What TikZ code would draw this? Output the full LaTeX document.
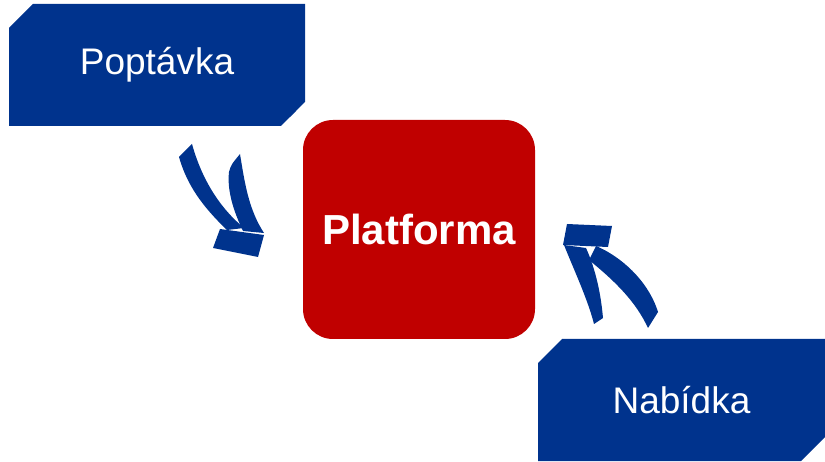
\documentclass[tikz,border=0pt]{standalone}
\usepackage{fontspec}
\setmainfont{Liberation Sans}
\usepackage{tikz}
\usetikzlibrary{shapes.misc}
\definecolor{offerblue}{RGB}{0,51,141}
\definecolor{hubred}{RGB}{192,0,0}
\tikzset{side node/.style={chamfered rectangle,chamfered rectangle corners={north west,south east},
    chamfered rectangle xsep=12pt,chamfered rectangle ysep=12pt,fill=offerblue,text=white,
    inner sep=0pt,font=\fontsize{37}{40}\selectfont},}
\tikzstyle{hub} = [rectangle,rounded corners=30pt,fill=hubred,text=white,inner sep=0pt,
    minimum width=232pt,minimum height=219pt,font=\bfseries\fontsize{42}{46}\selectfont]
\tikzstyle{swoosh} = [fill=offerblue,draw=none]

\begin{document}
\begin{tikzpicture}[x=1pt,y=-1pt]
                    \useasboundingbox (0,0) rectangle (825,462);
                    \node[side node,minimum width=296pt,minimum height=122pt] (poptavka) at (157,65) {Popt\'avka};
                    \node[hub] (platforma) at (419,229.5) {Platforma};
                    \node[side node,minimum width=287pt,minimum height=122pt] (nabidka) at (681.5,400) {Nab\'idka};
                    % arrow into platforma from the left
                    \fill[swoosh] (179,157) -- (192,144) .. controls (202,180) and (220,208) .. (244,228)
                        -- (227,230) .. controls (202,206) and (187,185) .. (179,157) -- cycle;
                    \fill[swoosh] (240,154) .. controls (245,185) and (249,210) .. (264,233)
                        -- (243,231) .. controls (233,210) and (227,190) .. (229,172)
                        .. controls (231,165) .. (240,154) -- cycle;
                    \fill[swoosh] (220,229) -- (264,235) -- (258,257) -- (213,248) -- cycle;
                    % arrow into platforma from the right
                    \fill[swoosh] (567,224) -- (612,226) -- (608,247) -- (563,245) -- cycle;
                    \fill[swoosh] (564,245) .. controls (574,270) and (588,300) .. (594,324)
                        -- (603,318) .. controls (601,295) and (596,270) .. (586,248) -- cycle;
                    \fill[swoosh] (596,246) .. controls (620,256) and (648,280) .. (658,312)
                        -- (648,328) .. controls (636,302) and (616,282) .. (589,260) -- cycle;
                \end{tikzpicture}
\end{document}
